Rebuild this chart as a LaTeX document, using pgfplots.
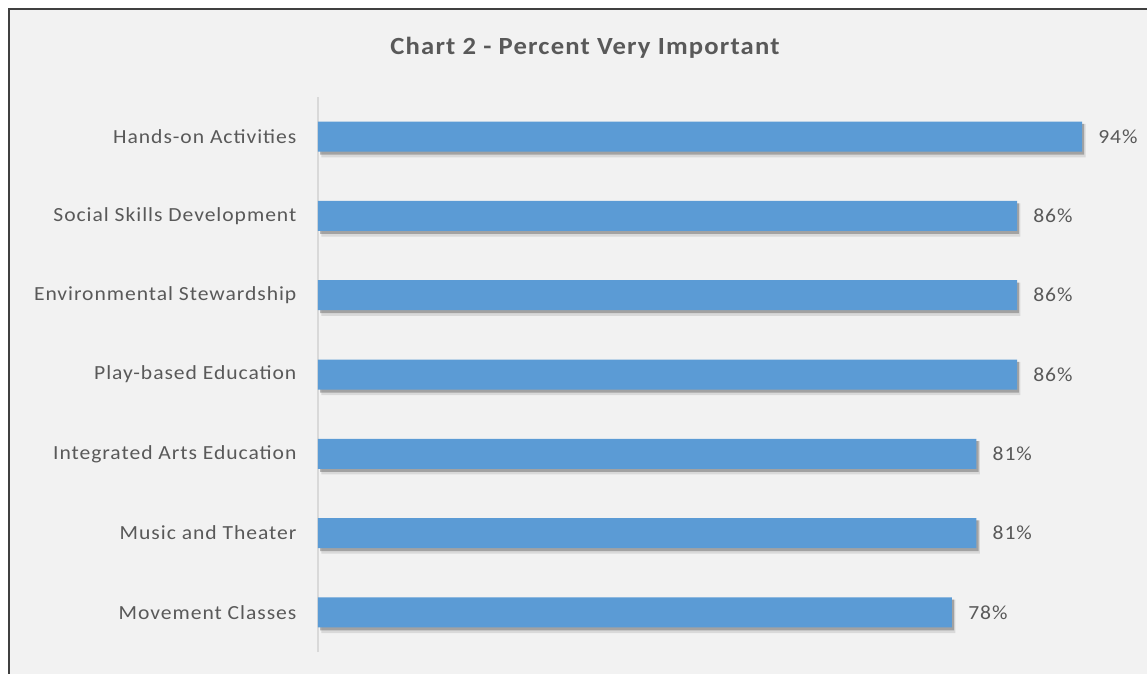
\documentclass[border=0pt]{standalone}
\usepackage{fontspec}
\setmainfont{Carlito}[FakeStretch=1.08, LetterSpace=4.8]
\usepackage{pgfplots}
\pgfplotsset{compat=1.18}
\definecolor{barblue}{HTML}{5B9BD5}
\definecolor{txtgray}{HTML}{595959}
\definecolor{bggray}{HTML}{F2F2F2}
\definecolor{axgray}{HTML}{D9D9D9}
\definecolor{frame}{HTML}{404040}
\pgfplotstableread{
y  v
0  78
1  81
2  81
3  86
4  86
5  86
6  94
}\datatab
\begin{document}
\begin{tikzpicture}
\useasboundingbox (0,0) rectangle (860.25pt,-505.5pt);
\begin{scope}
\clip (0,0) rectangle (860.25pt,-505.5pt);
\fill[white] (0,0) rectangle (860.25pt,-505.5pt);
\filldraw[fill=bggray, draw=frame, line width=1.6pt] (7pt,-7pt) rectangle (880pt,-530pt);
\end{scope}
\node[font=\fontsize{18.5}{20}\selectfont\bfseries, text=txtgray] at (438.75pt,-35.5pt) {Chart 2 - Percent Very Important};
\begin{axis}[
  at={(238.5pt,-489pt)}, anchor=south west,
  scale only axis,
  width=609.6pt, height=416.25pt,
  xmin=0, xmax=100,
  ymin=-0.5, ymax=6.5,
  xbar, bar width=22.5pt,
  hide x axis,
  axis y line*=left,
  y axis line style={draw=axgray, line width=0.8pt},
  ytick={0,1,2,3,4,5,6},
  yticklabels={Movement Classes, Music and Theater, Integrated Arts Education, Play-based Education, Environmental Stewardship, Social Skills Development, Hands-on Activities},
  major tick length=0pt,
  ytick style={draw=none},
  yticklabel style={font=\fontsize{15}{17}\selectfont, text=txtgray, inner sep=0pt, anchor=east, xshift=-16pt},
  /pgf/number format/assume math mode=true,
  clip=false,
]
\addplot[forget plot, fill=black, fill opacity=0.10, draw=none, bar width=25pt, xshift=2.6pt, yshift=-3pt] table[x=v, y=y] {\datatab};
\addplot[forget plot, fill=black, fill opacity=0.25, draw=none, bar width=23pt, xshift=1.6pt, yshift=-2pt] table[x=v, y=y] {\datatab};
\addplot[fill=barblue, draw=none,
  nodes near coords={\pgfmathprintnumber{\pgfplotspointmeta}\%},
  nodes near coords style={font=\fontsize{15}{17}\selectfont, text=txtgray, inner sep=0pt, anchor=west, xshift=12pt},
  point meta=x] table[x=v, y=y] {\datatab};
\end{axis}
\end{tikzpicture}
\end{document}
